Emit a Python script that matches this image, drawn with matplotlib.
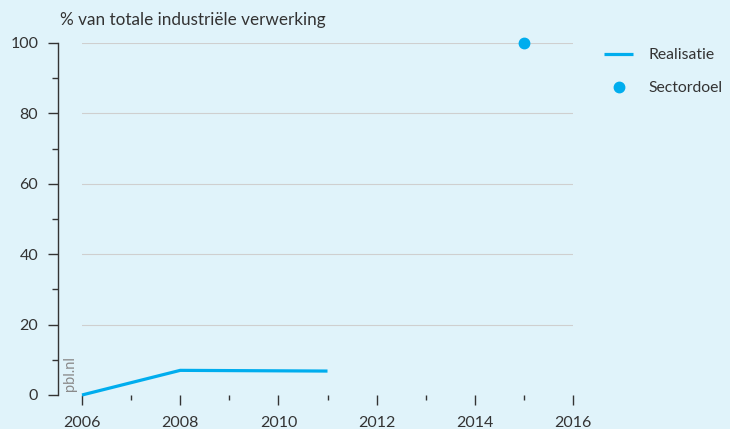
import matplotlib.pyplot as plt
from matplotlib.lines import Line2D

# data
real_years = [2006, 2008, 2011]
real_values = [0, 7, 6.8]
doel_years = [2015]
doel_values = [100]
xticks = [2006, 2008, 2010, 2012, 2014, 2016]
yticks = [0, 20, 40, 60, 80, 100]

bg = '#e0f3fa'
blue = '#00adee'
dark = '#333333'

plt.rcParams['font.family'] = ['Lato', 'DejaVu Sans']

fig = plt.figure(figsize=(7.3, 4.29), dpi=100, facecolor=bg)
ax = fig.add_axes([82 / 730, 34 / 429, 491 / 730, 352 / 429])
ax.set_facecolor(bg)

ax.plot(real_years, real_values, color=blue, lw=2.3, solid_capstyle='butt',
        label='Realisatie', clip_on=False, zorder=3)
ax.plot(doel_years, doel_values, 'o', color=blue, ms=7.5, label='Sectordoel',
        clip_on=False, zorder=3)

ax.set_xlim(2006, 2016)
ax.set_ylim(0, 100)

for y in yticks[1:]:
    ax.axhline(y, color='#cfcfcf', lw=0.8, zorder=1)

for s in ['top', 'right', 'bottom']:
    ax.spines[s].set_visible(False)
ax.spines['left'].set_position(('outward', 17.3))
ax.spines['left'].set_color(dark)
ax.spines['left'].set_linewidth(1.0)

# bottom axis line extending to the left
ax.add_line(Line2D([-34 / 491, 1], [0, 0], transform=ax.get_xaxis_transform(),
                   color=dark, lw=1.0, clip_on=False))

ax.set_xticks(xticks)
ax.set_xticks(range(2007, 2016, 2), minor=True)
ax.set_yticks(yticks)
ax.set_yticks(range(10, 100, 20), minor=True)
ax.tick_params(axis='x', which='major', length=7.2, width=1.0, color=dark,
               labelsize=11.5, labelcolor=dark, pad=8)
ax.tick_params(axis='x', which='minor', length=3.6, width=1.0, color=dark)
ax.tick_params(axis='y', which='major', length=7.2, width=1.0, color=dark,
               labelsize=11.5, labelcolor=dark, pad=7)
ax.tick_params(axis='y', which='minor', length=4.3, width=1.0, color=dark)

fig.text(60 / 730, 1 - 20 / 429, '% van totale industriële verwerking',
         fontsize=12.3, color=dark, va='center', ha='left')

ax.text(2005.76, 1, 'pbl.nl', rotation=90, fontsize=10.5, color='#8a8a8a',
        ha='center', va='bottom')

ax.legend(loc='upper left', bbox_to_anchor=(1.038, 1.021), frameon=False,
          fontsize=11.3, handlelength=1.85, handletextpad=1.0, labelspacing=1.23,
          labelcolor=dark, borderaxespad=0.4)

fig.savefig('out.png', dpi=100, facecolor=bg)
